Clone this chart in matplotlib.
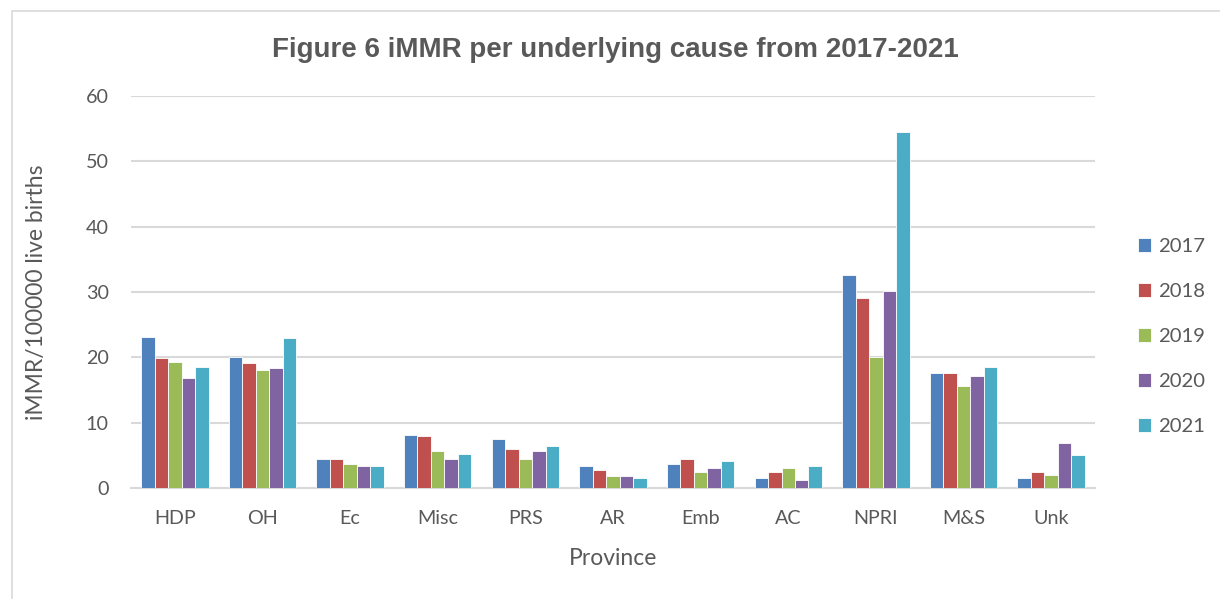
import matplotlib
matplotlib.use("Agg")
import matplotlib.pyplot as plt
from matplotlib.patches import Rectangle
import numpy as np

categories = ["HDP", "OH", "Ec", "Misc", "PRS", "AR", "Emb", "AC", "NPRI", "M&S", "Unk"]
years = ["2017", "2018", "2019", "2020", "2021"]
v2017 = [23.1, 20.1, 4.4, 8.1, 7.5, 3.3, 3.7, 1.6, 32.6, 17.6, 1.6]
v2018 = [19.9, 19.2, 4.4, 7.9, 5.9, 2.7, 4.4, 2.5, 29.1, 17.6, 2.5]
v2019 = [19.3, 18.1, 3.7, 5.6, 4.4, 1.9, 2.4, 3.1, 20.0, 15.6, 2.0]
v2020 = [16.9, 18.4, 3.4, 4.4, 5.6, 1.8, 3.0, 1.3, 30.1, 17.1, 6.9]
v2021 = [18.5, 23.0, 3.3, 5.2, 6.5, 1.6, 4.1, 3.3, 54.5, 18.5, 5.1]
series = [v2017, v2018, v2019, v2020, v2021]
colors = ["#4F81BD", "#C0504D", "#9BBB59", "#8064A2", "#4BACC6"]

text_color = "#595959"
grid_color = "#D9D9D9"
body_font = ["Lato", "DejaVu Sans"]

fig = plt.figure(figsize=(12.2, 5.99), dpi=100)
ax = fig.add_axes([0.1074, 0.1853, 0.7901, 0.6544])

# outer chart frame
fig.patches.append(Rectangle((12 / 1220, -0.05), 1.2, 1 - 11 / 599 + 0.05,
                             transform=fig.transFigure, fill=False,
                             edgecolor=grid_color, linewidth=1.2))

x = np.arange(len(categories))
w = 0.154
for i, (vals, c, lab) in enumerate(zip(series, colors, years)):
    ax.bar(x + (i - 2) * w, vals, width=w, color=c, edgecolor="white",
           linewidth=0.6, label=lab, zorder=3)

ax.set_xlim(-0.5, len(categories) - 0.5)
ax.set_ylim(0, 60)
ax.set_yticks(range(0, 61, 10))
ax.set_xticks(x)
ax.set_xticklabels(categories)
ax.grid(axis="y", color=grid_color, linewidth=1.5, zorder=0)
ax.set_axisbelow(True)
for s in ["top", "right", "left"]:
    ax.spines[s].set_visible(False)
ax.spines["bottom"].set_color(grid_color)
ax.spines["bottom"].set_linewidth(1.5)
ax.tick_params(axis="both", length=0, labelsize=14.2, colors=text_color)
ax.tick_params(axis="y", pad=16)
ax.tick_params(axis="x", pad=16)
for t in ax.get_xticklabels() + ax.get_yticklabels():
    t.set_fontfamily(body_font)

ax.set_ylabel("iMMR/100000 live births", fontsize=16.5, color=text_color,
              family=body_font, va="center")
ax.yaxis.set_label_coords(-0.0985, 0.5)
ax.set_xlabel("Province", fontsize=16.5, color=text_color, family=body_font,
              va="center")
ax.xaxis.set_label_coords(0.5, -0.1786)

fig.text(0.504, 1 - 57 / 599, "Figure 6 iMMR per underlying cause from 2017-2021",
         ha="center", va="baseline", fontsize=20, fontweight="bold",
         color=text_color, family=["Liberation Sans", "DejaVu Sans"])

leg = fig.legend(loc="center left", bbox_to_anchor=(0.9328, 1 - 336.5 / 599),
                 frameon=False, prop={"family": body_font, "size": 14.6},
                 labelcolor=text_color, handlelength=0.64, handleheight=0.64,
                 handletextpad=0.35, labelspacing=1.38, borderaxespad=0,
                 borderpad=0)

fig.savefig("out.png", dpi=100)
